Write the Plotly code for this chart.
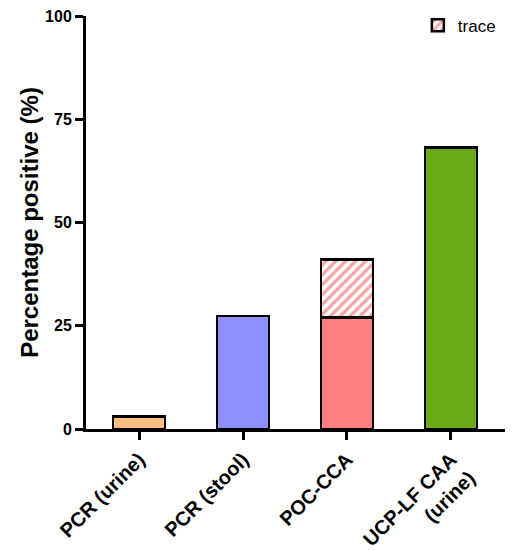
import plotly.graph_objects as go

# categories and values
categories = ["PCR (urine)", "PCR (stool)", "POC-CCA", "UCP-LF CAA<br>(urine)"]
positive = [3.0, 27.4, 27.0, 68.2]
trace_extra = [None, None, 14.0, None]
bar_colors = ["#FDBF7F", "#8F8FFF", "#FF7F7F", "#6AAA17"]

fig = go.Figure()

fig.add_trace(go.Bar(
    x=categories, y=positive,
    marker=dict(color=bar_colors, line=dict(color="black", width=2.5)),
    width=0.5,
    showlegend=False
))

fig.add_trace(go.Bar(
    x=categories, y=trace_extra,
    name="trace",
    marker=dict(
        color="white",
        line=dict(color="black", width=2.5),
        pattern=dict(shape="/", fgcolor="#F4A3A3", bgcolor="white",
                     size=7, solidity=0.45, fillmode="replace")
    ),
    width=0.5
))

# page body has an 8px margin, so margins are offset to compensate
fig.update_layout(
    width=518, height=550,
    barmode="stack",
    plot_bgcolor="white", paper_bgcolor="white",
    margin=dict(l=78, r=21, t=8, b=129, autoexpand=False),
    font=dict(family="Liberation Sans, Arial, sans-serif", color="black"),
    legend=dict(x=0.792, y=1.02, xanchor="left", yanchor="top",
                font=dict(size=17), bgcolor="rgba(0,0,0,0)"),
    xaxis=dict(
        range=[-0.51, 3.52],
        automargin=False,
        showline=True, linecolor="black", linewidth=3,
        ticks="outside", ticklen=8, tickwidth=3, tickcolor="black",
        tickangle=-45,
        tickfont=dict(size=20, weight="bold"),
        showgrid=False
    ),
    yaxis=dict(
        range=[0, 100],
        automargin=False,
        tickvals=[0, 25, 50, 75, 100],
        ticklabeloverflow="allow",
        showline=True, linecolor="black", linewidth=3,
        ticks="outside", ticklen=8, tickwidth=3, tickcolor="black",
        tickfont=dict(size=16, weight="bold"),
        title=dict(text="Percentage positive (%)",
                   font=dict(size=24, weight="bold"), standoff=0),
        showgrid=False, zeroline=False
    )
)

fig.write_html("out.html")
